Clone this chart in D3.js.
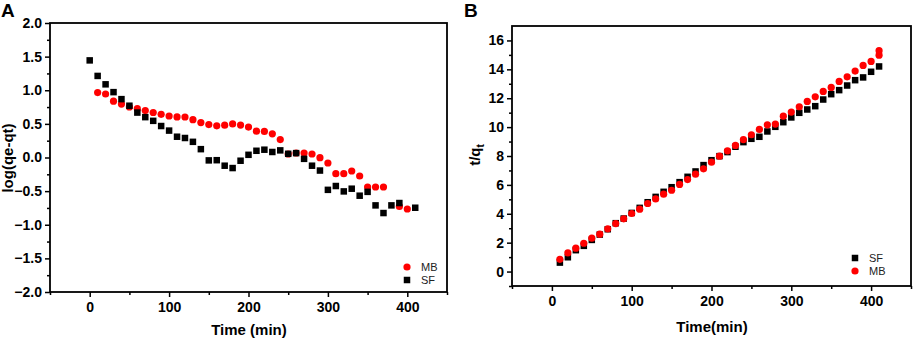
<!DOCTYPE html>
<html>
<head>
<meta charset="utf-8">
<script src="https://cdn.jsdelivr.net/npm/d3@7"></script>
<style>
  body { margin: 0; background: #fff; }
  svg { display: block; }
  text { font-family: Arial, "Liberation Sans", sans-serif; }
</style>
</head>
<body>
<svg id="chart" width="913" height="338"></svg>
<script>
// ---------- Panel A data: log(qe-qt) vs time ----------
const timeA_SF = [0,10,20,30,40,50,60,70,80,90,100,110,120,130,140,150,160,170,180,190,200,210,220,230,240,250,260,270,280,290,300,310,320,330,340,350,360,370,380,390,410];
const logA_SF = [1.444,1.213,1.088,0.972,0.868,0.77,0.668,0.6,0.545,0.468,0.4,0.309,0.29,0.233,0.124,-0.043,-0.04,-0.122,-0.157,-0.048,0.04,0.1,0.116,0.082,0.106,0.055,0.065,-0.02,-0.122,-0.194,-0.481,-0.424,-0.504,-0.464,-0.568,-0.511,-0.712,-0.826,-0.712,-0.677,-0.747];
const timeA_MB = [10,20,30,40,50,60,70,80,90,100,110,120,130,140,150,160,170,180,190,200,210,220,230,240,250,260,270,280,290,300,310,320,330,340,350,360,370,390,400];
const logA_MB = [0.966,0.944,0.838,0.794,0.752,0.726,0.698,0.669,0.642,0.617,0.604,0.602,0.562,0.52,0.49,0.471,0.48,0.5,0.482,0.453,0.392,0.388,0.352,0.267,0.052,0.067,0.067,0.052,-0.003,-0.082,-0.241,-0.241,-0.201,-0.275,-0.439,-0.439,-0.439,-0.727,-0.766];
const ticksA_X = [0,100,200,300,400];
const ticksA_Y = [-2.0,-1.5,-1.0,-0.5,0.0,0.5,1.0,1.5,2.0];

// ---------- Panel B data: t/qt vs time ----------
const timeB_SF = [10,20,30,40,50,60,70,80,90,100,110,120,130,140,150,160,170,180,190,200,210,220,230,240,250,260,270,280,290,300,310,320,330,340,350,360,370,380,390,400,410];
const tqB_SF = [0.62,0.99,1.48,1.78,2.19,2.56,2.93,3.35,3.67,4.06,4.41,4.8,5.17,5.52,5.84,6.19,6.56,6.93,7.37,7.71,7.99,8.27,8.64,8.96,9.19,9.33,9.7,10.02,10.34,10.67,10.99,11.22,11.45,11.91,12.28,12.56,12.88,13.25,13.44,13.83,14.2];
const timeB_MB = [10,20,30,40,50,60,70,80,90,100,110,120,130,140,150,160,170,180,190,200,210,220,230,240,250,260,270,280,290,300,310,320,330,340,350,360,370,380,390,400,410,410];
const tqB_MB = [0.85,1.29,1.62,1.96,2.31,2.59,2.96,3.32,3.65,4.02,4.32,4.71,5.03,5.36,5.63,6.03,6.37,6.74,7.11,7.57,7.99,8.36,8.73,9.14,9.47,9.84,10.16,10.21,10.76,11.04,11.41,11.78,12.1,12.47,12.75,13.16,13.48,13.88,14.27,14.55,14.98,15.29];
const ticksB_X = [0,100,200,300,400];
const ticksB_Y = [0,2,4,6,8,10,12,14,16];

const svg = d3.select("#chart");

function panel(opt) {
  const g = svg.append("g");
  const x = d3.scaleLinear().domain(opt.xDomain).range([opt.left, opt.right]);
  const y = d3.scaleLinear().domain(opt.yDomain).range([opt.bottom, opt.top]);

  // minor ticks
  g.append("g").attr("transform", `translate(0,${opt.bottom})`)
    .call(d3.axisBottom(x).tickValues(opt.xMinor).tickSize(3).tickFormat("").tickSizeOuter(0))
    .call(s => s.select(".domain").remove())
    .selectAll("line").attr("stroke-width", 1.5);
  g.append("g").attr("transform", `translate(${opt.left},0)`)
    .call(d3.axisLeft(y).tickValues(opt.yMinor).tickSize(3).tickFormat("").tickSizeOuter(0))
    .call(s => s.select(".domain").remove())
    .selectAll("line").attr("stroke-width", 1.5);

  // major ticks
  const ax = g.append("g").attr("transform", `translate(0,${opt.bottom})`)
    .call(d3.axisBottom(x).tickValues(opt.xTicks).tickSize(5).tickPadding(5).tickSizeOuter(0).tickFormat(d3.format("d")));
  ax.select(".domain").remove();
  ax.selectAll("line").attr("stroke-width", 1.5);
  ax.selectAll("text").attr("font-size", 14).attr("font-weight", "bold").attr("fill", "#000")
    .attr("font-family", "Arial, 'Liberation Sans', sans-serif");

  const ay = g.append("g").attr("transform", `translate(${opt.left},0)`)
    .call(d3.axisLeft(y).tickValues(opt.yTicks).tickSize(5).tickPadding(3).tickSizeOuter(0).tickFormat(opt.yFormat));
  ay.select(".domain").remove();
  ay.selectAll("line").attr("stroke-width", 1.5);
  ay.selectAll("text").attr("font-size", 14).attr("font-weight", "bold").attr("fill", "#000")
    .attr("font-family", "Arial, 'Liberation Sans', sans-serif");

  // frame
  g.append("rect").attr("x", opt.left).attr("y", opt.top)
    .attr("width", opt.right - opt.left).attr("height", opt.bottom - opt.top)
    .attr("fill", "none").attr("stroke", "#000").attr("stroke-width", 1.8);

  // series
  const sq = 6.5, r = 3.6;
  function drawSeries(s) {
    const pts = s.xs.map((v, i) => [v, s.ys[i]]);
    if (s.shape === "square") {
      g.append("g").selectAll("rect").data(pts).join("rect")
        .attr("x", d => x(d[0]) - sq / 2).attr("y", d => y(d[1]) - sq / 2)
        .attr("width", sq).attr("height", sq).attr("fill", s.color);
    } else {
      g.append("g").selectAll("circle").data(pts).join("circle")
        .attr("cx", d => x(d[0])).attr("cy", d => y(d[1])).attr("r", r).attr("fill", s.color);
    }
  }
  opt.series.forEach(drawSeries);

  // legend
  opt.legend.forEach((l, i) => {
    const ly = opt.legendY + i * 13;
    if (l.shape === "square") {
      g.append("rect").attr("x", opt.legendX - sq / 2).attr("y", ly - sq / 2)
        .attr("width", sq).attr("height", sq).attr("fill", l.color);
    } else {
      g.append("circle").attr("cx", opt.legendX).attr("cy", ly).attr("r", r).attr("fill", l.color);
    }
    g.append("text").attr("x", opt.legendX + 14).attr("y", ly + 4)
      .attr("font-size", 11).attr("fill", "#222").text(l.name);
  });

  // panel letter
  g.append("text").attr("x", opt.letterX).attr("y", 17)
    .attr("font-size", 19).attr("font-weight", "bold").text(opt.letter);

  // x title
  g.append("text").attr("x", opt.xTitleX).attr("y", opt.xTitleY)
    .attr("text-anchor", "middle").attr("font-size", 15).attr("font-weight", "bold")
    .text(opt.xTitle);

  // y title
  const yt = g.append("text")
    .attr("transform", `translate(${opt.yTitleX},${opt.yTitleY}) rotate(-90)`)
    .attr("text-anchor", "middle").attr("font-size", 15).attr("font-weight", "bold");
  opt.yTitle(yt);
  return g;
}

panel({
  left: 50, right: 447, top: 23, bottom: 292,
  xDomain: [-50, 450], yDomain: [-2, 2],
  xTicks: ticksA_X, yTicks: ticksA_Y,
  xMinor: [-50, 50, 150, 250, 350, 450],
  yMinor: d3.range(-1.75, 2, 0.5),
  yFormat: d3.format(".1f"),
  series: [
    {xs: timeA_MB, ys: logA_MB, color: "#ff0000", shape: "circle"},
    {xs: timeA_SF, ys: logA_SF, color: "#000000", shape: "square"}
  ],
  legend: [
    {name: "MB", color: "#ff0000", shape: "circle"},
    {name: "SF", color: "#000000", shape: "square"}
  ],
  legendX: 407, legendY: 267,
  letter: "A", letterX: 1,
  xTitle: "Time (min)", xTitleX: 249, xTitleY: 335,
  yTitleX: 13, yTitleY: 158,
  yTitle: t => t.text("log(qe-qt)")
});

panel({
  left: 512, right: 911, top: 26, bottom: 286,
  xDomain: [-50, 450], yDomain: [-1, 17],
  xTicks: ticksB_X, yTicks: ticksB_Y,
  xMinor: [-50, 50, 150, 250, 350, 450],
  yMinor: d3.range(-1, 17, 2),
  yFormat: d3.format("d"),
  series: [
    {xs: timeB_SF, ys: tqB_SF, color: "#000000", shape: "square"},
    {xs: timeB_MB, ys: tqB_MB, color: "#ff0000", shape: "circle"}
  ],
  legend: [
    {name: "SF", color: "#000000", shape: "square"},
    {name: "MB", color: "#ff0000", shape: "circle"}
  ],
  legendX: 855, legendY: 258,
  letter: "B", letterX: 464,
  xTitle: "Time(min)", xTitleX: 712, xTitleY: 332,
  yTitleX: 480, yTitleY: 155,
  yTitle: t => {
    t.append("tspan").text("t/q");
    t.append("tspan").attr("font-size", 10).attr("dy", 4).text("t");
  }
});
</script>
</body>
</html>
